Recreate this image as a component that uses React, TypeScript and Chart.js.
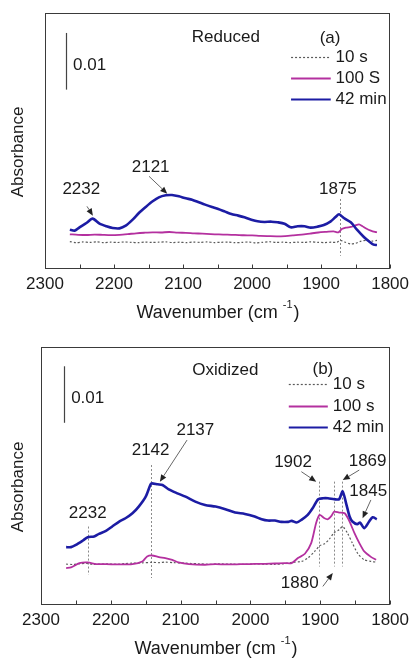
import React, { useEffect, useRef } from "react";
import { Chart, registerables } from "chart.js";
Chart.register(...registerables);

// ---------- shared axis ----------
const xTickValues = [2300, 2250, 2200, 2150, 2100, 2050, 2000, 1950, 1900, 1850, 1800];
const xTickLabels = ["2300", "", "2200", "", "2100", "", "2000", "", "1900", "", "1800"];

// ---------- panel (a) Reduced ----------
const namesA = ["10 s", "100 S", "42 min"];
const redWn10 = [2264,2255,2245,2235,2225,2215,2205,2195,2185,2175,2165,2155,2145,2135,2125,2115,2105,2095,2085,2075,2065,2055,2045,2035,2025,2015,2005,1995,1985,1975,1965,1955,1945,1935,1925,1915,1905,1895,1885,1877,1872,1865,1857,1850,1843,1834,1826,1819];
const redAb10 = [0.00480,0.00462,0.00474,0.00466,0.00476,0.00462,0.00470,0.00465,0.00474,0.00468,0.00462,0.00472,0.00466,0.00470,0.00476,0.00464,0.00470,0.00462,0.00472,0.00468,0.00474,0.00464,0.00468,0.00472,0.00462,0.00466,0.00474,0.00458,0.00468,0.00478,0.00466,0.00470,0.00462,0.00470,0.00466,0.00476,0.00468,0.00464,0.00470,0.00468,0.00503,0.00470,0.00439,0.00450,0.00485,0.00503,0.00490,0.00503];
const redWn100 = [2264,2252,2240,2228,2216,2204,2192,2180,2168,2156,2144,2132,2120,2108,2096,2084,2072,2060,2048,2036,2024,2012,2000,1988,1976,1964,1952,1940,1928,1916,1904,1892,1882,1875,1870,1864,1857,1851,1845,1840,1834,1828,1822,1819];
const redAb100 = [0.00608,0.00600,0.00596,0.00604,0.00598,0.00594,0.00600,0.00612,0.00626,0.00636,0.00643,0.00640,0.00649,0.00638,0.00634,0.00626,0.00620,0.00612,0.00606,0.00602,0.00598,0.00592,0.00590,0.00580,0.00576,0.00573,0.00578,0.00590,0.00604,0.00622,0.00640,0.00652,0.00661,0.00643,0.00700,0.00725,0.00737,0.00760,0.00784,0.00750,0.00705,0.00673,0.00650,0.00643];
const redWn42 = [2264,2257,2250,2240,2231,2221,2211,2202,2192,2183,2173,2164,2154,2144,2135,2125,2116,2106,2096,2087,2077,2068,2058,2049,2039,2030,2020,2011,2001,1992,1982,1972,1963,1953,1944,1934,1924,1915,1905,1896,1886,1879,1874,1867,1857,1848,1838,1829,1824,1819];
const redAb42 = [0.00690,0.00673,0.00731,0.00807,0.00883,0.00795,0.00749,0.00719,0.00713,0.00760,0.00865,0.00982,0.01088,0.01187,0.01257,0.01292,0.01298,0.01275,0.01240,0.01216,0.01170,0.01129,0.01088,0.01053,0.01006,0.00965,0.00936,0.00906,0.00865,0.00836,0.00825,0.00830,0.00819,0.00795,0.00731,0.00749,0.00749,0.00725,0.00743,0.00772,0.00836,0.00912,0.00959,0.00895,0.00819,0.00690,0.00561,0.00468,0.00427,0.00421];

// ---------- panel (b) Oxidized ----------
const namesB = ["10 s", "100 s", "42 min"];
const oxWn10 = [2264,2255,2245,2235,2225,2217,2205,2190,2180,2169,2155,2141,2130,2122,2110,2095,2085,2074,2060,2045,2027,2010,1995,1979,1965,1950,1941,1927,1918,1908,1901,1894,1887,1880,1873,1868,1861,1854,1846,1837,1827,1820];
const oxAb10 = [0.00719,0.00712,0.00725,0.00730,0.00716,0.00719,0.00722,0.00716,0.00728,0.00737,0.00742,0.00749,0.00746,0.00754,0.00745,0.00738,0.00730,0.00725,0.00716,0.00722,0.00719,0.00713,0.00722,0.00719,0.00716,0.00728,0.00749,0.00766,0.00825,0.00942,0.01041,0.01076,0.01158,0.01275,0.01322,0.01380,0.01263,0.01088,0.00901,0.00795,0.00766,0.00754];
const oxWn100 = [2264,2257,2245,2233,2221,2207,2188,2169,2155,2148,2141,2131,2122,2112,2103,2088,2065,2050,2036,2020,2008,1994,1979,1965,1951,1941,1932,1922,1913,1906,1901,1894,1889,1884,1880,1873,1865,1858,1851,1844,1837,1827,1820];
const oxAb100 = [0.00649,0.00661,0.00737,0.00749,0.00719,0.00719,0.00713,0.00719,0.00766,0.00854,0.00871,0.00842,0.00825,0.00795,0.00749,0.00719,0.00708,0.00720,0.00713,0.00716,0.00719,0.00722,0.00725,0.00730,0.00737,0.00737,0.00825,0.00901,0.01088,0.01439,0.01585,0.01526,0.01509,0.01567,0.01643,0.01626,0.01614,0.01468,0.01263,0.01088,0.00942,0.00842,0.00795];
const oxWn42 = [2264,2257,2250,2240,2233,2224,2217,2207,2198,2188,2179,2169,2160,2150,2143,2141,2133,2126,2117,2107,2093,2079,2065,2050,2036,2022,2008,1994,1984,1975,1965,1956,1946,1941,1934,1927,1918,1911,1903,1896,1889,1880,1873,1868,1863,1858,1854,1847,1843,1837,1830,1825,1819];
const oxAb42 = [0.01018,0.01018,0.01058,0.01135,0.01193,0.01205,0.01251,0.01304,0.01380,0.01468,0.01526,0.01614,0.01731,0.01906,0.02123,0.02140,0.02123,0.02111,0.02035,0.01977,0.01906,0.01819,0.01760,0.01731,0.01684,0.01626,0.01602,0.01556,0.01509,0.01485,0.01485,0.01462,0.01462,0.01480,0.01450,0.01497,0.01585,0.01702,0.01860,0.01877,0.01877,0.01860,0.01860,0.02000,0.01789,0.01556,0.01468,0.01421,0.01450,0.01351,0.01468,0.01544,0.01509];

const FONT = "'Liberation Sans', Arial, sans-serif";
const STYLES = [
  { color: "#5a5a5a", width: 1.2, dash: [2, 2], order: 2 },
  { color: "#b4309f", width: 1.8, dash: [] as number[], order: 1 },
  { color: "#1c1ca4", width: 2.6, dash: [] as number[], order: 0 },
];

type Pt = [number, number];
interface PanelCfg {
  height: number;
  yMax: number;
  pad: { top: number; left: number; right: number };
  xHeight: number;
  names: string[];
  series: { wn: number[]; ab: number[] }[];
  title: { text: string; at: Pt };
  tag: { text: string; at: Pt };
  legend: { x1: number; x2: number; xt: number; ys: number[] };
  bar: { wn: number; y1: number; y2: number; textAt: Pt };
  labels: { text: string; at: Pt }[];
  arrows: { from: Pt; to: Pt }[];
  vlines: { wn: number; y1: number; y2: number }[];
}

const panelA: PanelCfg = {
  height: 330,
  yMax: 0.0449,
  pad: { top: 13, left: 45, right: 21 },
  xHeight: 61,
  names: namesA,
  series: [
    { wn: redWn10, ab: redAb10 },
    { wn: redWn100, ab: redAb100 },
    { wn: redWn42, ab: redAb42 },
  ],
  title: { text: "Reduced", at: [2038, 0.04064] },
  tag: { text: "(a)", at: [1887, 0.04053] },
  legend: { x1: 1943.5, x2: 1886, xt: 1879, ys: [0.03719, 0.03351, 0.02988] },
  bar: { wn: 2269.4, y1: 0.0414, y2: 0.03146, textAt: [2259.3, 0.03567] },
  labels: [
    { text: "2232", at: [2247.4, 0.01392] },
    { text: "2121", at: [2146.9, 0.01784] },
    { text: "1875", at: [1875.6, 0.01392] },
  ],
  arrows: [
    { from: [2239.2, 0.01099], to: [2230.6, 0.00936] },
    { from: [2149.3, 0.01626], to: [2122.9, 0.01322] },
  ],
  vlines: [{ wn: 1872.7, y1: 0.01228, y2: 0.00234 }],
};

const panelB: PanelCfg = {
  height: 329,
  yMax: 0.04538,
  pad: { top: 17, left: 41, right: 21 },
  xHeight: 54,
  names: namesB,
  series: [
    { wn: oxWn10, ab: oxAb10 },
    { wn: oxWn100, ab: oxAb100 },
    { wn: oxWn42, ab: oxAb42 },
  ],
  title: { text: "Oxidized", at: [2036, 0.04129] },
  tag: { text: "(b)", at: [1896.3, 0.0414] },
  legend: { x1: 1945.1, x2: 1889.2, xt: 1882, ys: [0.03895, 0.03497, 0.03123] },
  bar: { wn: 2267.3, y1: 0.04199, y2: 0.03205, textAt: [2256.8, 0.03632] },
  labels: [
    { text: "2232", at: [2233.1, 0.01614] },
    { text: "2142", at: [2143, 0.02725] },
    { text: "2137", at: [2078.9, 0.03076] },
    { text: "1902", at: [1939, 0.02503] },
    { text: "1869", at: [1832.2, 0.0252] },
    { text: "1845", at: [1831.3, 0.02006] },
    { text: "1880", at: [1929.5, 0.00374] },
  ],
  arrows: [
    { from: [2090.8, 0.02901], to: [2129.7, 0.0217] },
    { from: [1927.1, 0.02345], to: [1905.8, 0.0217] },
    { from: [1844.1, 0.02374], to: [1867.8, 0.02199] },
    { from: [1827.5, 0.01848], to: [1839.4, 0.01526] },
    { from: [1896.3, 0.00327], to: [1882.1, 0.00561] },
  ],
  vlines: [
    { wn: 2233, y1: 0.0138, y2: 0.00532 },
    { wn: 2142, y1: 0.02462, y2: 0.00474 },
    { wn: 1902, y1: 0.0217, y2: 0.00678 },
    { wn: 1881, y1: 0.0217, y2: 0.00678 },
    { wn: 1869, y1: 0.0217, y2: 0.00678 },
  ],
};

function decorPlugin(cfg: PanelCfg) {
  return {
    id: "decor",
    beforeDatasetsDraw(chart: any) {
      const { ctx, scales } = chart;
      const x = scales.x, y = scales.y;
      ctx.save();
      ctx.strokeStyle = "#8a8a8a";
      ctx.lineWidth = 1;
      ctx.setLineDash([2, 2]);
      cfg.vlines.forEach((v) => {
        const X = Math.round(x.getPixelForValue(v.wn)) + 0.5;
        ctx.beginPath();
        ctx.moveTo(X, y.getPixelForValue(v.y1));
        ctx.lineTo(X, y.getPixelForValue(v.y2));
        ctx.stroke();
      });
      ctx.restore();
    },
    afterDraw(chart: any) {
      const { ctx, chartArea: a, scales } = chart;
      const x = scales.x, y = scales.y;
      const px = (v: number) => x.getPixelForValue(v);
      const py = (v: number) => y.getPixelForValue(v);
      ctx.save();
      // frame
      ctx.setLineDash([]);
      ctx.strokeStyle = "#3a3a3a";
      ctx.lineWidth = 1;
      const L = Math.round(a.left) + 0.5, R = Math.round(a.right) - 0.5;
      const T = Math.round(a.top) + 0.5, B = Math.round(a.bottom) - 0.5;
      ctx.strokeRect(L, T, R - L, B - T);
      // inner ticks
      ctx.beginPath();
      x.ticks.forEach((t: any) => {
        const X = Math.round(px(t.value)) + 0.5;
        ctx.moveTo(X, B);
        ctx.lineTo(X, B - 4);
      });
      ctx.stroke();

      ctx.fillStyle = "#1a1a1a";
      ctx.font = `17px ${FONT}`;
      ctx.textBaseline = "middle";
      // title & tag
      ctx.textAlign = "center";
      ctx.fillText(cfg.title.text, px(cfg.title.at[0]), py(cfg.title.at[1]));
      ctx.fillText(cfg.tag.text, px(cfg.tag.at[0]), py(cfg.tag.at[1]));
      // peak labels
      cfg.labels.forEach((l) => ctx.fillText(l.text, px(l.at[0]), py(l.at[1])));
      // scale bar
      ctx.strokeStyle = "#444";
      ctx.lineWidth = 1.2;
      ctx.beginPath();
      const bx = Math.round(px(cfg.bar.wn)) + 0.5;
      ctx.moveTo(bx, py(cfg.bar.y1));
      ctx.lineTo(bx, py(cfg.bar.y2));
      ctx.stroke();
      ctx.textAlign = "left";
      ctx.fillText("0.01", px(cfg.bar.textAt[0]), py(cfg.bar.textAt[1]));
      // legend
      cfg.names.forEach((n, i) => {
        const s = STYLES[i];
        const Y = Math.round(py(cfg.legend.ys[i])) + 0.5;
        ctx.strokeStyle = s.color;
        ctx.lineWidth = i === 2 ? 2 : s.width;
        ctx.setLineDash(s.dash);
        ctx.beginPath();
        ctx.moveTo(px(cfg.legend.x1), Y);
        ctx.lineTo(px(cfg.legend.x2), Y);
        ctx.stroke();
        ctx.setLineDash([]);
        ctx.fillText(n, px(cfg.legend.xt), Y);
      });
      // arrows
      cfg.arrows.forEach((ar) => {
        const x1 = px(ar.from[0]), y1 = py(ar.from[1]);
        const x2 = px(ar.to[0]), y2 = py(ar.to[1]);
        const ang = Math.atan2(y2 - y1, x2 - x1);
        const hl = 7, hw = 3;
        ctx.strokeStyle = "#666";
        ctx.lineWidth = 1;
        ctx.beginPath();
        ctx.moveTo(x1, y1);
        ctx.lineTo(x2 - Math.cos(ang) * hl, y2 - Math.sin(ang) * hl);
        ctx.stroke();
        ctx.fillStyle = "#222";
        ctx.beginPath();
        ctx.moveTo(x2, y2);
        ctx.lineTo(x2 - Math.cos(ang) * hl - Math.sin(ang) * hw, y2 - Math.sin(ang) * hl + Math.cos(ang) * hw);
        ctx.lineTo(x2 - Math.cos(ang) * hl + Math.sin(ang) * hw, y2 - Math.sin(ang) * hl - Math.cos(ang) * hw);
        ctx.closePath();
        ctx.fill();
      });
      ctx.fillStyle = "#1a1a1a";
      // y title
      ctx.save();
      ctx.translate(18, (a.top + a.bottom) / 2 + 11);
      ctx.rotate(-Math.PI / 2);
      ctx.textAlign = "center";
      ctx.font = `17px ${FONT}`;
      ctx.fillText("Absorbance", 0, 0);
      ctx.restore();
      // x title with superscript
      const ty = a.bottom + 44;
      ctx.font = `18px ${FONT}`;
      const p1 = "Wavenumber (cm ";
      const p2 = "-1";
      const p3 = ")";
      const w1 = ctx.measureText(p1).width;
      const w3 = ctx.measureText(p3).width;
      ctx.font = `11px ${FONT}`;
      const w2 = ctx.measureText(p2).width;
      const cx = (a.left + a.right) / 2;
      let sx = cx - (w1 + w2 + w3) / 2;
      ctx.textAlign = "left";
      ctx.font = `18px ${FONT}`;
      ctx.fillText(p1, sx, ty);
      ctx.font = `11px ${FONT}`;
      ctx.fillText(p2, sx + w1, ty - 8);
      ctx.font = `18px ${FONT}`;
      ctx.fillText(p3, sx + w1 + w2 + 1, ty);
      ctx.restore();
    },
  };
}

function Panel({ cfg }: { cfg: PanelCfg }) {
  const ref = useRef<HTMLCanvasElement>(null);
  useEffect(() => {
    if (!ref.current) return;
    const chart = new Chart(ref.current, {
      type: "line",
      data: {
        datasets: cfg.series.map((s, i) => ({
          label: cfg.names[i],
          data: s.wn.map((w, j) => ({ x: w, y: s.ab[j] })),
          borderColor: STYLES[i].color,
          borderWidth: STYLES[i].width,
          borderDash: STYLES[i].dash,
          pointRadius: 0,
          tension: 0.25,
          fill: false,
          order: STYLES[i].order,
        })),
      },
      options: {
        animation: false,
        responsive: false,
        events: [],
        layout: { padding: { top: cfg.pad.top, left: cfg.pad.left, right: cfg.pad.right, bottom: 0 } },
        plugins: { legend: { display: false }, tooltip: { enabled: false }, title: { display: false } },
        scales: {
          x: {
            type: "linear",
            reverse: true,
            min: 1800,
            max: 2300,
            afterBuildTicks: (s: any) => {
              s.ticks = xTickValues.map((v) => ({ value: v }));
            },
            afterFit: (s: any) => {
              s.height = cfg.xHeight;
            },
            grid: { display: false, drawTicks: false, tickLength: 0 },
            border: { display: false },
            ticks: {
              autoSkip: false,
              maxRotation: 0,
              padding: 5,
              color: "#1a1a1a",
              font: { family: FONT, size: 17 },
              callback: (v: any) => xTickLabels[xTickValues.indexOf(Number(v))] ?? "",
            },
          },
          y: {
            display: false,
            min: 0,
            max: cfg.yMax,
          },
        },
      },
      plugins: [decorPlugin(cfg)],
    } as any);
    return () => chart.destroy();
  }, [cfg]);
  return <canvas ref={ref} width={414} height={cfg.height} style={{ display: "block", width: 414, height: cfg.height }} />;
}

export default function App() {
  return (
    <div style={{ position: "absolute", left: 0, top: 0, width: 414, height: 659, background: "#fff" }}>
      <Panel cfg={panelA} />
      <Panel cfg={panelB} />
    </div>
  );
}
